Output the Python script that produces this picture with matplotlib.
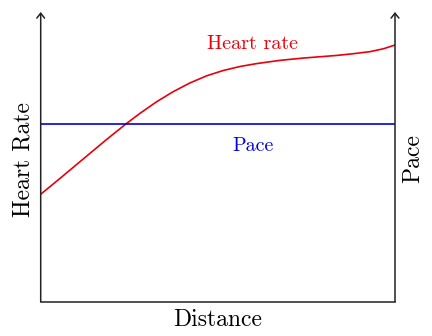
import matplotlib
matplotlib.use("Agg")
import matplotlib.pyplot as plt

plt.rcParams['font.family'] = ['cmr10', 'DejaVu Serif']
plt.rcParams['axes.formatter.use_mathtext'] = True

# Data (arbitrary units)
distance = [0.0, 0.45, 0.92, 1.39, 1.86, 2.40, 2.80, 3.27, 3.74, 4.21, 4.69,
            5.15, 5.63, 6.10, 6.75, 7.41, 8.35, 8.82, 9.29, 9.67, 10.0]
heart_rate = [3.71, 4.16, 4.64, 5.12, 5.60, 6.13, 6.50, 6.90, 7.25, 7.55, 7.80,
              7.98, 8.12, 8.22, 8.33, 8.41, 8.50, 8.56, 8.63, 8.73, 8.86]
pace_x = [0.0, 10.0]
pace = [6.13, 6.13]

W, H = 432, 336
fig = plt.figure(figsize=(W / 100, H / 100), dpi=100)
left, right, bottom, top = 40.7, 395.0, 301.7, 12.0
ax = fig.add_axes([left / W, 1 - bottom / H, (right - left) / W, (bottom - top) / H])
ax.set_xlim(0, 10)
ax.set_ylim(0, 10)
ax.set_xticks([])
ax.set_yticks([])
for s in ['top', 'left', 'right']:
    ax.spines[s].set_visible(False)
ax.spines['bottom'].set_linewidth(1.1)
ax.spines['bottom'].set_color('#222222')
ax.patch.set_alpha(0)

axis_col = '#222222'
for xf in (0, 1):
    ax.annotate('', xy=(xf, 1), xytext=(xf, 0), xycoords='axes fraction',
                textcoords='axes fraction',
                arrowprops=dict(arrowstyle='->,head_length=0.35,head_width=0.28',
                                lw=1.1, color=axis_col, shrinkA=0, shrinkB=0),
                annotation_clip=False)

ax.plot(distance, heart_rate, color='#e8000b', lw=1.2, clip_on=False,
        solid_capstyle='butt', solid_joinstyle='round')
ax.plot(pace_x, pace, color='#0000dd', lw=1.2, clip_on=False, solid_capstyle='butt')

ax.text(5.99, 8.88, 'Heart rate', color='#e8000b', fontsize=14.5, ha='center', va='center')
ax.text(5.99, 5.38, 'Pace', color='#0000dd', fontsize=14.5, ha='center', va='center')

fig.text(217.5 / W, 1 - 320 / H, 'Distance', fontsize=17, ha='center', va='center')
fig.text(23.3 / W, 1 - 160 / H, 'Heart Rate', fontsize=17, ha='center', va='center', rotation=90)
fig.text(413.3 / W, 1 - 159 / H, 'Pace', fontsize=17, ha='center', va='center', rotation=90)

fig.savefig('out.png', dpi=100)
